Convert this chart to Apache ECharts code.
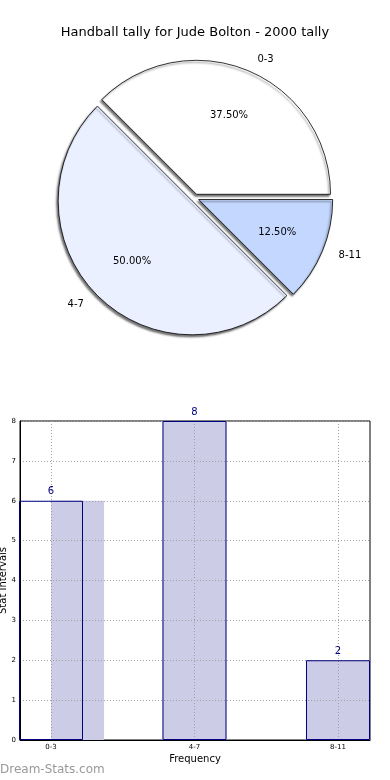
<!DOCTYPE html>
<html><head><meta charset="utf-8">
<script src="https://cdn.jsdelivr.net/npm/echarts@6/dist/echarts.min.js"></script>
<style>html,body{margin:0;padding:0;background:#fff}#c{width:390px;height:780px}</style>
</head><body><div id="c"></div>
<script>
const titleText = 'Handball tally for Jude Bolton - 2000 tally';
const categories = ['0-3', '4-7', '8-11'];
const counts = [6, 8, 2];
const yTicks = [0, 1, 2, 3, 4, 5, 6, 7, 8];
const xAxisName = 'Frequency';
const yAxisName = 'Stat Intervals';
const watermark = 'Dream-Stats.com';

const sliceColors = ['#ffffff', '#eaf0ff', '#c4d8ff'];
const FONT = 'DejaVu Sans';
const total = counts.reduce((a, b) => a + b, 0);
const pieData = categories.map((c, i) => ({
  name: c, value: counts[i], selected: true,
  itemStyle: { color: sliceColors[i] }
}));
const labelData = categories.map((c, i) => ({ name: c, value: counts[i], selected: true }));
const catIdx = categories.map((c, i) => i);
const gridLine = { show: true, lineStyle: { type: [1, 2], color: '#a0a0a0', width: 1 } };
const barFill = '#ccccе6'.replace('е', 'e');

const chart = echarts.init(document.getElementById('c'), null, { renderer: 'canvas' });
chart.setOption({
  animation: false,
  backgroundColor: '#fff',
  textStyle: { fontFamily: FONT },
  title: {
    text: titleText, left: 'center', top: 21,
    textStyle: { fontFamily: FONT, fontSize: 13, fontWeight: 'normal', color: '#000' }
  },
  graphic: [{
    type: 'text', left: 0, top: 764,
    style: { text: watermark, fontFamily: FONT, fontSize: 12, fill: '#999999', fontWeight: 'normal' }
  }],
  grid: {
    left: 20, right: 20, top: 421, bottom: 40, show: true, borderColor: '#000', borderWidth: 1,
    outerBoundsMode: 'none', containLabel: false
  },
  xAxis: [{
    type: 'value', min: -0.216, max: 2.223, z: 3,
    axisLine: { show: true, onZero: false, lineStyle: { color: '#000', width: 1 } },
    axisTick: { show: false, customValues: catIdx },
    axisLabel: { customValues: catIdx, formatter: v => categories[Math.round(v)], fontSize: 7, color: '#000', margin: 4, fontFamily: FONT },
    splitLine: gridLine,
    name: xAxisName, nameLocation: 'middle', nameGap: 14, nameMoveOverlap: false,
    nameTextStyle: { fontSize: 10, color: '#000', fontFamily: FONT }
  }, {
    type: 'value', min: -0.216 - 0.185, max: 2.223 - 0.185, show: false
  }],
  yAxis: {
    type: 'value', min: yTicks[0], max: yTicks[yTicks.length - 1], interval: 1, z: 3,
    axisLine: { show: true, onZero: false, lineStyle: { color: '#000', width: 1 } },
    axisTick: { show: false },
    axisLabel: { fontSize: 7, color: '#000', margin: 4, fontFamily: FONT },
    splitLine: gridLine,
    name: yAxisName, nameLocation: 'middle', nameGap: 12, nameMoveOverlap: false,
    nameTextStyle: { fontSize: 10, color: '#000', fontFamily: FONT }
  },
  series: [
    {
      type: 'pie', center: [195, 198], radius: 134, startAngle: 0, clockwise: false,
      selectedMode: 'multiple', selectedOffset: 4, avoidLabelOverlap: false,
      emphasis: { disabled: true },
      itemStyle: {
        borderColor: '#000', borderWidth: 0.8,
        shadowColor: 'rgba(0,0,0,0.55)', shadowBlur: 2, shadowOffsetX: -1.5, shadowOffsetY: 2
      },
      label: { show: true, position: 'outside', formatter: '{b}', fontSize: 10, color: '#000', fontFamily: FONT },
      labelLine: { show: false, length: 12, length2: 0 },
      data: pieData, z: 2
    },
    {
      type: 'pie', center: [195, 198], radius: 164, startAngle: 0, clockwise: false,
      selectedMode: 'multiple', selectedOffset: 4, silent: true,
      emphasis: { disabled: true },
      itemStyle: { color: 'rgba(0,0,0,0)', borderWidth: 0 },
      label: {
        show: true, position: 'inside', fontSize: 10, color: '#000', fontFamily: FONT,
        formatter: p => (p.value / total * 100).toFixed(2) + '%'
      },
      labelLine: { show: false },
      data: labelData, z: 3
    },
    {
      type: 'bar', xAxisIndex: 0, barWidth: 64, barGap: '-100%', clip: true,
      itemStyle: { color: barFill },
      data: counts.map((v, i) => [i, v]).slice(1), z: 1
    },
    {
      type: 'bar', xAxisIndex: 1, barWidth: 53, barGap: '-100%', clip: true,
      itemStyle: { color: barFill },
      data: [[0, counts[0]]], z: 1
    },
    {
      type: 'bar', xAxisIndex: 0, barWidth: 64, barGap: '-100%', clip: true,
      itemStyle: { color: 'rgba(0,0,0,0)', borderColor: '#000080', borderWidth: 1 },
      label: { show: true, position: 'top', distance: 4, fontSize: 10, color: '#000080', fontFamily: FONT },
      data: counts.map((v, i) => [i, v]), z: 4
    }
  ]
});
</script></body></html>
